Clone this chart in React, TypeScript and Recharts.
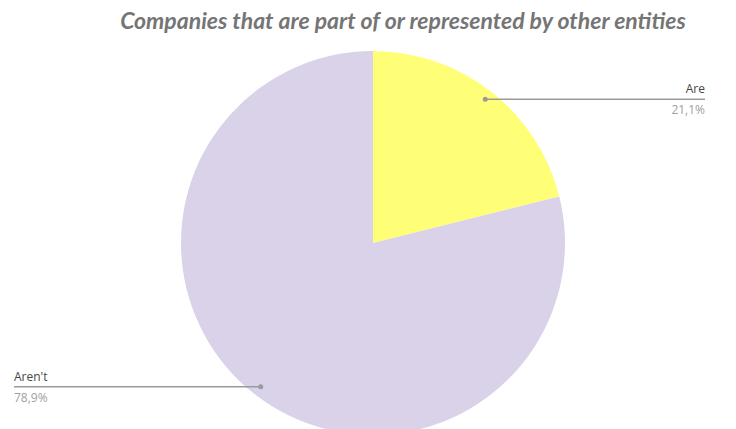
import { PieChart, Pie, Cell } from "recharts";

document.body.style.margin = "0";

const categories = ["Are", "Aren't"];
const shares = [21.1, 78.9];
const colors = ["#FFFF77", "#D9D2E9"];

const data = categories.map((name, i) => ({ name, value: shares[i] }));

const RADIAN = Math.PI / 180;

function renderLabel(props: any) {
  const { cx, cy, midAngle, outerRadius, index, name, value } = props;
  const r = outerRadius * 0.95;
  const x = cx + r * Math.cos(-midAngle * RADIAN);
  const y = cy + r * Math.sin(-midAngle * RADIAN);
  const right = x > cx;
  const endX = right ? 705 : 14;
  const anchor = right ? "end" : "start";
  return (
    <g key={`lbl-${index}`}>
      <line x1={x} y1={y} x2={endX} y2={y} stroke="#9a9a9a" strokeWidth={1.5} />
      <circle cx={x} cy={y} r={2.5} fill="#9a9a9a" />
      <text
        x={endX}
        y={y - 6}
        textAnchor={anchor}
        fontSize={12}
        fill="#444"
        fontFamily="Open Sans, sans-serif"
      >
        {name}
      </text>
      <text
        x={endX}
        y={y + 15}
        textAnchor={anchor}
        fontSize={12}
        fill="#a0a0a0"
        fontFamily="Open Sans, sans-serif"
      >
        {String(value.toFixed(1)).replace(".", ",")}%
      </text>
    </g>
  );
}

export default function App() {
  return (
    <div style={{ position: "relative", width: 736, height: 429, overflow: "hidden", background: "#fff" }}>
      <div
        style={{
          position: "absolute",
          top: 6,
          left: 0,
          width: 806,
          textAlign: "center",
          fontFamily: "Lato, sans-serif",
          fontStyle: "italic",
          fontWeight: 700,
          fontSize: 23,
          color: "#757575",
          zIndex: 1,
        }}
      >
        Companies that are part of or represented by other entities
      </div>
      <PieChart width={736} height={429} margin={{ top: 0, right: 0, bottom: 0, left: 0 }}>
        <Pie
          data={data}
          dataKey="value"
          nameKey="name"
          cx={373}
          cy={243}
          outerRadius={192}
          startAngle={90}
          endAngle={-270}
          stroke="none"
          label={renderLabel}
          labelLine={false}
          isAnimationActive={false}
        >
          {data.map((d, i) => (
            <Cell key={d.name} fill={colors[i]} />
          ))}
        </Pie>
      </PieChart>
    </div>
  );
}
